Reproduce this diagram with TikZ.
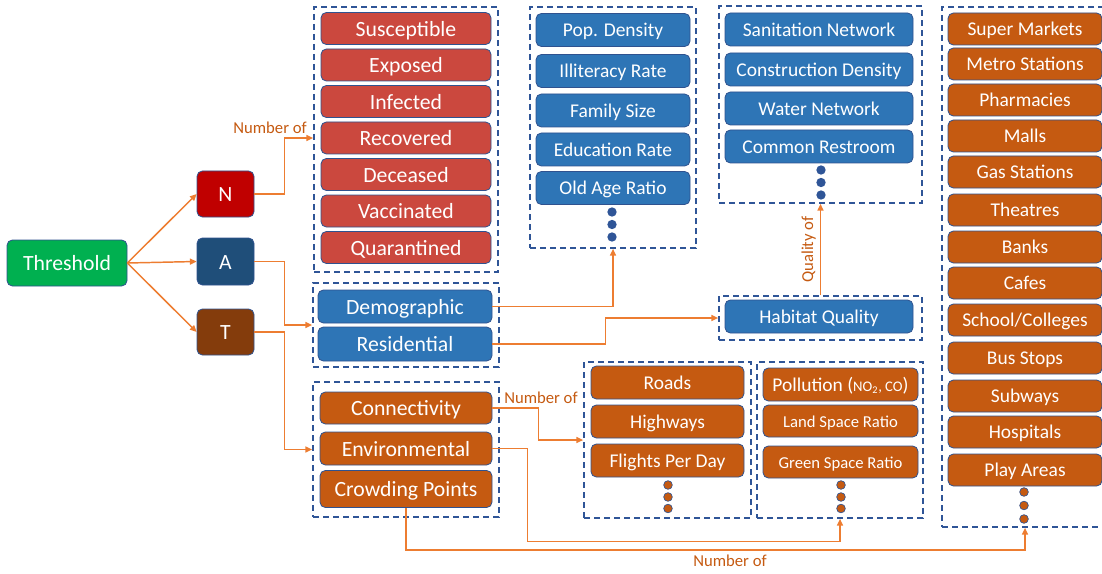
\documentclass[tikz,border=0pt]{standalone}
\usepackage{fontspec}
\setmainfont{Carlito}
\usetikzlibrary{arrows.meta}
\definecolor{cgreen}{RGB}{0,176,80}
\definecolor{cnred}{RGB}{192,0,0}
\definecolor{cnavy}{RGB}{31,78,121}
\definecolor{cbrown}{RGB}{132,60,12}
\definecolor{cred}{RGB}{203,72,62}
\definecolor{cblue}{RGB}{46,117,182}
\definecolor{corange}{RGB}{197,90,17}
\definecolor{cline}{RGB}{237,125,49}
\definecolor{cdash}{RGB}{47,85,151}
\definecolor{cedge}{RGB}{47,82,143}
\tikzset{pix/.style={x=0.75pt,y=-0.75pt}}
\tikzset{item/.style={draw=cedge,line width=0.6pt,rounded corners=4pt,text=white,inner sep=0pt,
           text depth=0pt,text height=10.4pt,font=\fontsize{14.6}{16}\selectfont},
         big/.style={text height=11.5pt,font=\fontsize{16.3}{18}\selectfont},
         small/.style={text height=9pt,font=\fontsize{12.5}{14}\selectfont},
         sz/.style 2 args={minimum width=#1*0.75pt,minimum height=#2*0.75pt},
         group/.style={draw=cdash,line width=1.3pt,dash pattern=on 4.5pt off 3pt,inner sep=0pt},
         link/.style={cline,line width=1.1pt,-{Triangle[length=5pt,width=4.5pt]}},
         note/.style={text=corange,inner sep=0pt,font=\fontsize{12.5}{14}\selectfont},
         bdot/.style={circle,fill=cdash,inner sep=0pt,minimum size=7pt},
         odot/.style={circle,fill=corange,draw=cedge,line width=0.5pt,inner sep=0pt,minimum size=6.5pt}}

\begin{document}
\begin{tikzpicture}[pix]
    \useasboundingbox (0,0) rectangle (1102,574);
    % dashed groups
    \node[group,sz={184}{265}] (gN)   at (406,139.5) {};
    \node[group,sz={186}{84}]  (gA)   at (406,325) {};
    \node[group,sz={186}{135}] (gT)   at (406,449.5) {};
    \node[group,sz={166}{241}] (gSoc) at (613,127.5) {};
    \node[group,sz={203}{197}] (gSan) at (820.5,104.5) {};
    \node[group,sz={203}{44}]  (gHab) at (820.5,318) {};
    \node[group,sz={167}{156}] (gRd)  at (667.5,440) {};
    \node[group,sz={166}{156}] (gEnv) at (840,440) {};
    \node[group,sz={166}{520}] (gPl)  at (1025,267) {};
    % left part
    \node[item,big,fill=cgreen,sz={120}{46}] (thr) at (67,263) {Threshold};
    \node[item,big,fill=cnred,sz={57}{46}]  (nN) at (225.5,194) {N};
    \node[item,big,fill=cnavy,sz={57}{47}]  (nA) at (225.5,261.5) {A};
    \node[item,big,fill=cbrown,sz={57}{46}] (nT) at (225.5,332) {T};
    % N stack
    \foreach \txt [count=\i from 0] in {Susceptible,Exposed,Infected,Recovered,Deceased,Vaccinated,Quarantined}
      \node[item,big,fill=cred,sz={170}{32}] (r\i) at (406,{28.5+36.5*\i}) {\txt};
    % A stack
    \node[item,big,fill=cblue,sz={174}{33}] (demo) at (405,306.5) {Demographic};
    \node[item,big,fill=cblue,sz={174}{34}] (resi) at (405,344) {Residential};
    \foreach \txt/\y [count=\i] in {Pop. Density/30,Illiteracy Rate/71,Family Size/110.5,Education Rate/149.5,Old Age Ratio/188}
      \node[item,fill=cblue,sz={154}{33}] (s\i) at (613,\y) {\txt};
    \foreach \y [count=\i] in {212,224.5,237} \node[bdot] (sd\i) at (612,\y) {};
    \foreach \txt/\y [count=\i] in {Sanitation Network/29.5,Construction Density/69.5,Water Network/108.5,Common Restroom/146.5}
      \node[item,fill=cblue,sz={188}{33}] (h\i) at (819,\y) {\txt};
    \foreach \y [count=\i] in {170,182.5,195} \node[bdot] (hd\i) at (821,\y) {};
    \node[item,fill=cblue,sz={188}{33}] (hab) at (819,316.5) {Habitat Quality};
    % T stack
    \node[item,big,fill=corange,sz={172}{32}] (conn)  at (406,408) {Connectivity};
    \node[item,big,fill=corange,sz={172}{33}] (env)   at (406,448.5) {Environmental};
    \node[item,big,fill=corange,sz={172}{37}] (crowd) at (406,489) {Crowding Points};
    \foreach \txt/\y [count=\i] in {Roads/382.5,Highways/421.5,Flights Per Day/460.5}
      \node[item,fill=corange,sz={153}{33}] (rd\i) at (667.5,\y) {\txt};
    \foreach \y [count=\i] in {485,497,508.5} \node[odot] (rdd\i) at (668,\y) {};
    \node[item,fill=corange,sz={155}{33}] (e1) at (840.5,384.5) {Pollution ({\fontsize{11}{12}\selectfont NO\textsubscript{2}, CO})};
    \node[item,small,fill=corange,sz={155}{32}] (e2) at (840.5,421) {Land Space Ratio};
    \node[item,small,fill=corange,sz={155}{32}] (e3) at (840.5,462) {Green Space Ratio};
    \foreach \y [count=\i] in {485,497,508.5} \node[odot] (ed\i) at (841,\y) {};
    \foreach \txt/\y [count=\i from 0] in {Super Markets/29,Metro Stations/64,Pharmacies/100,Malls/136,Gas Stations/172,
        Theatres/210,Banks/247,Cafes/283,{School/Colleges}/320,Bus Stops/358,Subways/396,Hospitals/432,Play Areas/470}
      \node[item,fill=corange,sz={154}{32}] (p\i) at (1025,\y) {\txt};
    \foreach \y [count=\i] in {492,505.5,519} \node[odot] (pd\i) at (1024,\y) {};
    % connectors
    \draw[link] (thr.east) -- (nN.west);
    \draw[link] (thr.east) -- (nA.west);
    \draw[link] (thr.east) -- (nT.west);
    \draw[link] (nN.east) -- ++(30,0) |- (gN.west |- r3);
    \draw[link] (nA.east) -- ++(30,0) |- (gA.west);
    \draw[link] (nT.east) -- ++(30,0) |- (gT.west);
    \draw[link] (demo.east) -| (gSoc.south);
    \draw[link] (resi.east) -- ++(113,0) |- (gHab.west);
    \draw[link] (gHab.north) -- (gSan.south) node[midway,above=3pt,sloped,note] (lQ) {Quality of};
    \draw[link] (conn.east) -- ++(46,0) |- (gRd.west);
    \draw[link] (env.east) -- ++(35,0) -- ++(0,93) -| (gEnv.south);
    \draw[link] (crowd.south) -- ++(0,42) -| (gPl.south);
    \node[note,anchor=east] (lN) at (307,128) {Number of};
    \node[note,anchor=west] (lC) at (504,398) {Number of};
    \node[note] (lP) at (730,561) {Number of};
  \end{tikzpicture}
\end{document}
